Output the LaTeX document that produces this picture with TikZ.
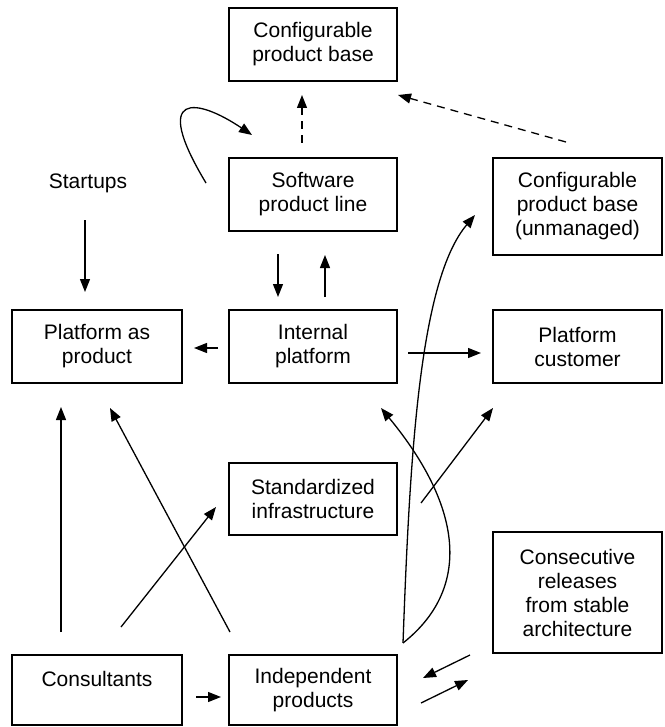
\documentclass[tikz,border=0pt]{standalone}
\usepackage{fontspec}
\setmainfont{Liberation Sans}
\usetikzlibrary{arrows.meta}
\begin{document}
\begin{tikzpicture}[x=1pt,y=-1pt,
  box/.style={draw, line width=1.9pt, minimum width=168pt, align=center, inner sep=0pt,
    font=\fontsize{21}{24}\selectfont},
  lbl/.style={align=center, inner sep=0pt, font=\fontsize{21}{24}\selectfont},
  arr/.style={line width=1.3pt, -{Triangle[length=13pt,width=10pt]}},
  darr/.style={arr, dash pattern=on 8pt off 6pt}]
\useasboundingbox (0,0) rectangle (664,727);
% boxes
\node[box, minimum height=73pt] (cpb) at (313,44.5) {Configurable\\product base};
\node[box, minimum height=73pt] (spl) at (313,194.5) {Software\\product line};
\node[box, minimum height=97pt, minimum width=169pt] (cpbu) at (577.5,206.5) {Configurable\\product base\\(unmanaged)};
\node[lbl] (startups) at (88,183) {Startups};
\node[box, minimum height=73pt, minimum width=170pt] (pap) at (97,346.5) {Platform as\\product};
\node[box, minimum height=73pt] (ip) at (313,346.5) {Internal\\platform};
\node[box, minimum height=73pt, minimum width=169pt] (pc) at (577.5,346.5) {Platform\\customer};
\node[box, minimum height=72pt] (si) at (313,499) {Standardized\\infrastructure};
\node[box, minimum height=121pt, minimum width=169pt] (cons) at (577.5,592.5) {Consecutive\\releases\\from stable\\architecture};
\node[box, minimum height=70pt, minimum width=170pt] (consult) at (97,690) {};
\node[lbl] (consulttext) at (97,679) {Consultants};
\node[box, minimum height=70pt] (indep) at (313,690) {Independent\\products};
% connector end points
\coordinate (loopS) at (206,183);
\coordinate (loopE) at (252,135);
\coordinate (d1s) at (302,143);
\coordinate (d1e) at (302,95);
\coordinate (d2s) at (566,142);
\coordinate (d2e) at (398,95);
\coordinate (stS) at (85,220);
\coordinate (stE) at (85,292);
\coordinate (dnS) at (278,254);
\coordinate (dnE) at (278,297);
\coordinate (upS) at (325,297);
\coordinate (upE) at (325,255);
\coordinate (lfS) at (218,348);
\coordinate (lfE) at (194,348);
\coordinate (rtS) at (408,353);
\coordinate (rtE) at (481,353);
\coordinate (coS) at (61,632);
\coordinate (coE) at (61,407);
\coordinate (inS) at (230,632);
\coordinate (inE) at (110,408);
\coordinate (csS) at (121,627);
\coordinate (csE) at (216,507);
\coordinate (siS) at (421,503);
\coordinate (siE) at (493,408);
\coordinate (ciS) at (196,697);
\coordinate (ciE) at (221,697);
\coordinate (k1S) at (470,655);
\coordinate (k1E) at (423,678);
\coordinate (k2S) at (421,703);
\coordinate (k2E) at (468,680);
\coordinate (cvS) at (403,643);
\coordinate (cvE1) at (475,215);
\coordinate (cvE2) at (381,408);
% connectors
\draw[arr] (loopS) .. controls (150,90) and (197,98) .. (loopE);
\draw[darr] (d1s) -- (d1e);
\draw[darr] (d2s) -- (d2e);
\draw[arr] (stS) -- (stE);
\draw[arr] (dnS) -- (dnE);
\draw[arr] (upS) -- (upE);
\draw[arr] (lfS) -- (lfE);
\draw[arr] (rtS) -- (rtE);
\draw[arr] (coS) -- (coE);
\draw[arr] (inS) -- (inE);
\draw[arr] (csS) -- (csE);
\draw[arr] (siS) -- (siE);
\draw[arr] (ciS) -- (ciE);
\draw[arr] (k1S) -- (k1E);
\draw[arr] (k2S) -- (k2E);
\draw[arr] (cvS) .. controls (410,450) and (420,280) .. (cvE1);
\draw[arr] (cvS) .. controls (470,590) and (465,510) .. (cvE2);
\end{tikzpicture}
\end{document}
